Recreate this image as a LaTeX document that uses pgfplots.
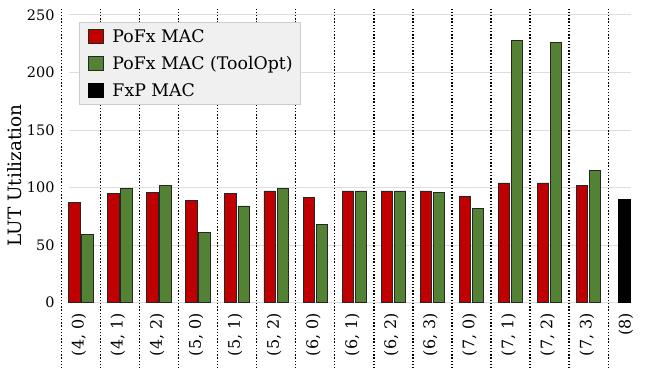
\documentclass[border=0pt]{standalone}
\usepackage{fontspec}
\setmainfont{DejaVu Serif}
\usepackage{pgfplots}
\pgfplotsset{compat=1.18}
\definecolor{cred}{HTML}{C00000}
\definecolor{cgreen}{HTML}{548235}
\definecolor{lgfill}{HTML}{F0F0F0}
\definecolor{lgdraw}{HTML}{CCCCCC}
\definecolor{gridc}{HTML}{DDDDDD}
\begin{document}
\begin{tikzpicture}
\useasboundingbox (0,0) rectangle (646bp,368bp);
\begin{axis}[
  at={(69bp,65.3bp)}, anchor=south west,
  scale only axis, width=562bp, height=296bp,
  xmin=-0.302, xmax=14.083, ymin=0, ymax=257,
  axis line style={draw=none},
  major tick length=0pt,
  ybar, bar width=0.29,
  legend image code/.code={\draw[#1] (0bp,-7bp) rectangle (15bp,7bp);},
  ytick={0,50,...,250},
  ymajorgrids, grid style={gridc, line width=0.8bp},
  xtick={0,...,14},
  xticklabels={{(4, 0)},{(4, 1)},{(4, 2)},{(5, 0)},{(5, 1)},{(5, 2)},{(6, 0)},{(6, 1)},{(6, 2)},{(6, 3)},{(7, 0)},{(7, 1)},{(7, 2)},{(7, 3)},{(8)}},
  /pgf/number format/assume math mode=true,
  yticklabel style={font=\fontsize{14.5}{16}\selectfont, xshift=-11bp},
  xticklabel style={font=\fontsize{16}{18}\selectfont, rotate=90, anchor=east, xshift=-7bp, yshift=2bp},
  ylabel={LUT Utilization},
  every axis y label/.style={at={(rel axis cs:-0.0961,0.43)}, rotate=90, anchor=center, font=\fontsize{18.5}{22}\selectfont},
  legend cell align=left,
  legend style={at={(rel axis cs:0.0183,0.947)}, anchor=north west,
    fill=lgfill, draw=lgdraw, line width=0.8bp,
    font=\fontsize{17.4}{20}\selectfont,
    inner xsep=8bp, inner ysep=0bp, column sep=9bp,
    nodes={inner sep=0pt, minimum height=27.2bp, anchor=west}},
  clip=false,
]
\addplot[fill=cred, draw=black!85, line width=0.8bp, bar shift=-0.167] coordinates {
(0,87) (1,95) (2,96) (3,89) (4,95) (5,97) (6,91) (7,97) (8,97) (9,97) (10,92) (11,104) (12,104) (13,102)};
\addlegendentry{PoFx MAC}
\addplot[fill=cgreen, draw=black!85, line width=0.8bp, bar shift=0.167] coordinates {
(0,59) (1,99) (2,102) (3,61) (4,84) (5,99) (6,68) (7,97) (8,97) (9,96) (10,82) (11,228) (12,226) (13,115)};
\addlegendentry{PoFx MAC (ToolOpt)}
\addplot[fill=black, draw=black, line width=0.8bp, bar shift=-0.087] coordinates {(14,90)};
\addlegendentry{FxP MAC}
\pgfplotsinvokeforeach{-0.5,0.5,...,13.5}{
  \draw[line width=1.4bp, dash pattern=on 1.4bp off 1.8bp] (axis cs:#1,-57) -- (axis cs:#1,255.6);
}
\end{axis}
\end{tikzpicture}
\end{document}
